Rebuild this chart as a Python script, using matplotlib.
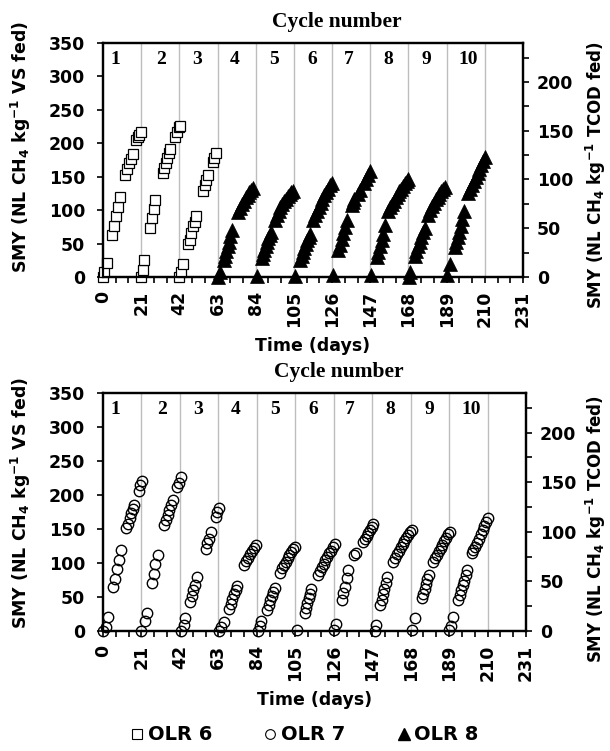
import numpy as np
import matplotlib
matplotlib.use("Agg")
from matplotlib import pyplot as plt
from matplotlib.ticker import MultipleLocator
from matplotlib.lines import Line2D

plt.rcParams['font.family'] = ['DejaVu Sans']
plt.rcParams['font.weight'] = 'bold'
plt.rcParams['mathtext.default'] = 'regular'

###################### Data ##################################################
# OLR 6, squares, cycles 1-3 (top panel).
olr6_days = [
    [0, 0.7, 2.4, 5, 6, 7.2, 8, 9.4, 12.1, 13.2, 14.3, 15.4, 16.3, 18.2, 19.1, 20, 21],
    [21, 21.9, 22.5, 25.9, 27, 27.8, 28.6, 33, 33.7, 34.4, 35.4, 36.3, 37, 39.8, 40.7, 41.6, 42.2],
    [42, 43, 43.9, 46.8, 47.7, 48.6, 49.5, 50.4, 51.3, 55, 55.9, 56.8, 57.7, 60.4, 61.3, 62.3],
]
olr6_smy = [
    [0, 8, 21, 63, 76, 91, 105, 119, 152, 161, 170, 176, 184, 205, 210, 213, 217],
    [0, 10, 25, 73, 88, 101, 115, 156, 163, 170, 178, 186, 191, 210, 217, 224, 226],
    [0, 7, 19, 49, 56, 66, 76, 83, 91, 128, 137, 145, 152, 172, 178, 185],
]

# OLR 8, triangles, cycles 4-10 (top panel).
olr8_days = [
    [63.5, 64.5, 66.5, 67.2, 67.9, 68.6, 69.3, 70.0, 70.7, 74.5, 75.5, 76.5, 77.5, 78.5, 79.5, 80.5, 81.5, 82.5],
    [84.5, 87.3, 88, 88.7, 89.5, 90.3, 91, 91.8, 92.6, 94.6, 95.6, 96.6, 97.6, 98.6, 99.6, 100.6, 101.6, 102.6, 103.6, 104.5],
    [105.5, 108.4, 109.2, 110, 110.8, 111.6, 112.4, 113.2, 114, 115.7, 116.7, 117.7, 118.7, 119.7, 120.7, 121.7, 122.7, 123.7, 124.7, 125.7],
    [126.7, 129.4, 130.3, 131.2, 132.1, 133, 134, 136.8, 137.5, 138.3, 140.5, 141.5, 143.5, 144.5, 145.5, 146.7],
    [147.5, 150.5, 151.4, 152.3, 153.2, 154.1, 155, 157, 158, 159, 160, 161, 162, 163, 164, 165, 166, 167, 168],
    [168.5, 169, 171.5, 172.4, 173.3, 174.2, 175.1, 176, 177, 179, 180, 181, 182, 183, 184, 185, 186, 187, 188.3],
    [189, 190.9, 193.5, 194.3, 195.1, 195.9, 196.7, 197.5, 198.3, 201, 202, 203, 204, 205, 206, 207, 208, 209, 210],
]
olr8_smy = [
    [0, 8, 25, 32, 39, 46, 53, 61, 70, 97, 103, 109, 114, 119, 123, 127, 130, 133],
    [2, 28, 34, 40, 46, 52, 58, 63, 68, 85, 92, 98, 104, 109, 113, 117, 121, 124, 127, 129],
    [2, 26, 32, 38, 44, 50, 55, 60, 65, 85, 92, 99, 105, 111, 117, 122, 127, 132, 137, 141],
    [3, 40, 48, 57, 66, 75, 86, 108, 112, 116, 124, 130, 140, 146, 152, 158],
    [3, 30, 38, 47, 56, 65, 78, 98, 104, 109, 114, 119, 124, 128, 132, 136, 140, 143, 146],
    [0, 8, 32, 39, 46, 53, 60, 67, 74, 92, 100, 106, 111, 116, 120, 124, 128, 131, 134],
    [3, 20, 45, 52, 60, 68, 77, 87, 98, 125, 131, 137, 143, 149, 155, 161, 167, 173, 180],
]

# OLR 7, circles, cycles 1-10 (bottom panel).
olr7_days = [
    [0, 1.6, 2.9, 5.3, 6.6, 7.9, 8.6, 10.1, 12.7, 13.6, 14.5, 15.4, 16.3, 17.1, 19.4, 20.3, 21.3],
    [21, 23.1, 24, 26.8, 27.7, 28.6, 29.9, 33.2, 34.2, 35.3, 36.3, 37.2, 38.1, 40.5, 41.6, 42.6],
    [42.5, 44.2, 45, 47.5, 48.4, 49.3, 50.2, 51.5, 56.1, 57, 58, 59.2, 61.6, 62.5, 63.5],
    [63.5, 64.7, 66.2, 68.9, 69.8, 70.7, 71.6, 72.5, 73.4, 77.2, 78.3, 79.4, 80.5, 81.6, 82.7, 83.8],
    [84.5, 85.6, 86.5, 89.8, 90.6, 91.4, 92.2, 93, 93.8, 96.8, 97.8, 98.8, 99.8, 100.8, 101.8, 102.8, 103.8, 104.8],
    [106, 110.2, 110.9, 111.6, 112.3, 113, 113.8, 117.5, 118.5, 119.5, 120.5, 121.5, 122.5, 123.5, 124.5, 125.5, 126.5],
    [126, 127.3, 130.4, 131.3, 132.2, 133.1, 134, 137.3, 137.9, 142.1, 143, 143.9, 144.8, 145.8, 146.7, 147.6],
    [148.5, 149, 151.3, 152.1, 152.9, 153.7, 154.5, 155.3, 158.6, 159.6, 160.6, 161.6, 162.6, 163.6, 164.6, 165.6, 166.6, 167.6, 168.5],
    [168.6, 170.4, 174, 174.8, 175.6, 176.4, 177.2, 177.9, 180.4, 181.4, 182.4, 183.4, 184.4, 185.4, 186.4, 187.4, 188.4, 189.4],
    [189.1, 190, 191.4, 194, 194.8, 195.6, 196.4, 197.2, 198, 198.6, 201.3, 202.3, 203.3, 204.3, 205.3, 206.3, 207.3, 208.3, 209.3, 210.4],
]
olr7_smy = [
    [0, 6, 21, 64, 77, 91, 104, 119, 151, 158, 166, 173, 179, 185, 206, 215, 221],
    [0, 14, 26, 70, 84, 98, 112, 156, 163, 171, 178, 185, 192, 212, 218, 226],
    [0, 9, 19, 42, 51, 60, 68, 80, 120, 130, 136, 145, 168, 175, 181],
    [0, 6, 13, 33, 40, 47, 54, 60, 66, 97, 103, 108, 113, 118, 122, 127],
    [0, 8, 15, 31, 38, 45, 52, 58, 63, 86, 92, 97, 102, 107, 112, 116, 120, 124],
    [2, 26, 34, 41, 48, 55, 62, 82, 88, 94, 99, 104, 109, 114, 118, 123, 128],
    [1, 11, 46, 56, 65, 78, 90, 112, 115, 131, 135, 139, 144, 149, 153, 158],
    [0, 9, 38, 46, 54, 62, 70, 80, 102, 108, 113, 118, 123, 128, 133, 137, 141, 145, 148],
    [1, 19, 48, 55, 62, 69, 76, 82, 102, 107, 112, 117, 122, 127, 132, 137, 142, 146],
    [1, 8, 21, 46, 53, 60, 67, 74, 82, 90, 114, 119, 124, 130, 136, 142, 148, 154, 160, 166],
]

cycle_labels = ['1', '2', '3', '4', '5', '6', '7', '8', '9', '10']
cycle_label_days = [6.5, 32, 52, 72.5, 94, 115, 135, 157, 178, 201]
cycle_bounds = [21, 42, 63, 84, 105, 126, 147, 168, 189, 210]

left_label = 'SMY (NL CH$_4$ kg$^{-1}$ VS fed)'
right_label = 'SMY (NL CH$_4$ kg$^{-1}$ TCOD fed)'

###################### Plot ##################################################
W, H = 610, 751
fig = plt.figure(figsize=(W/100, H/100), dpi=100)
FS = 12.5

def setup_panel(rect, left_y, right_y):
    ax = fig.add_axes(rect)
    ax.set_xlim(0, 231)
    ax.set_ylim(0, 350)
    for d in cycle_bounds:
        ax.axvline(d, color='#bdbdbd', lw=1.0, zorder=0)
    ax.xaxis.set_major_locator(MultipleLocator(21))
    ax.xaxis.set_minor_locator(MultipleLocator(7))
    ax.yaxis.set_major_locator(MultipleLocator(50))
    ax.tick_params(axis='x', which='both', direction='out', length=4, width=1.2, labelsize=FS,
                   labelrotation=90, pad=6)
    ax.tick_params(axis='y', which='major', direction='out', length=4, width=1.2, labelsize=FS, pad=9)
    for lab in ax.get_xticklabels() + ax.get_yticklabels():
        lab.set_fontweight('bold')
    for sp in ax.spines.values():
        sp.set_linewidth(1.6)
    axw = rect[2] * W
    ax.set_ylabel(left_label, fontsize=FS, fontweight='bold')
    ax.yaxis.set_label_coords((33 - 103) / axw, left_y)
    ax.set_xlabel('Time (days)', fontsize=FS, fontweight='bold', labelpad=7)
    for lab, d in zip(cycle_labels, cycle_label_days):
        ax.text(d, 326, lab, ha='center', va='center', fontsize=14, fontweight='bold',
                family='Liberation Serif')
    ax.text(0.557, 1.09, 'Cycle number', transform=ax.transAxes, ha='center', va='center',
            fontsize=15.5, fontweight='bold', family='Liberation Serif')

    axr = ax.twinx()
    axr.set_ylim(0, 240)
    axr.yaxis.set_major_locator(MultipleLocator(50))
    axr.yaxis.set_minor_locator(MultipleLocator(25))
    axr.tick_params(axis='y', which='both', direction='out', length=4, width=1.2, labelsize=FS, pad=6)
    for lab in axr.get_yticklabels():
        lab.set_fontweight('bold')
    for sp in axr.spines.values():
        sp.set_linewidth(1.6)
    axr.set_ylabel(right_label, fontsize=12, fontweight='bold')
    axr.yaxis.set_label_coords((584 - 103) / axw, right_y)
    return ax

ax1 = setup_panel([103/W, 1-277/H, 420/W, 234/H], 0.556, 0.436)
ax2 = setup_panel([103/W, 1-631/H, 423/W, 238/H], 0.538, 0.43)

for d, v in zip(olr6_days, olr6_smy):
    ax1.plot(d, v, ls='none', marker='s', ms=7.2, mfc='white', mec='black', mew=0.9, clip_on=False, zorder=3)
for d, v in zip(olr8_days, olr8_smy):
    ax1.plot(d, v, ls='none', marker='^', ms=10, mfc='black', mec='black', mew=0.5, clip_on=False, zorder=3)
for d, v in zip(olr7_days, olr7_smy):
    ax2.plot(d, v, ls='none', marker='o', ms=7.5, mfc='none', mec='black', mew=1.0, clip_on=False, zorder=3)

handles = [
    Line2D([], [], ls='none', marker='s', ms=7, mfc='white', mec='black', mew=0.8),
    Line2D([], [], ls='none', marker='o', ms=7, mfc='white', mec='black', mew=0.8),
    Line2D([], [], ls='none', marker='^', ms=8, mfc='black', mec='black'),
]
fig.legend(handles, ['OLR 6', 'OLR 7', 'OLR 8'], loc='center', ncol=3,
           bbox_to_anchor=(0.5, 1-735/H), frameon=False, handlelength=0.6,
           handletextpad=0.25, columnspacing=2.7, prop={'size': 14, 'weight': 'bold'})

fig.savefig('out.png', dpi=100)
